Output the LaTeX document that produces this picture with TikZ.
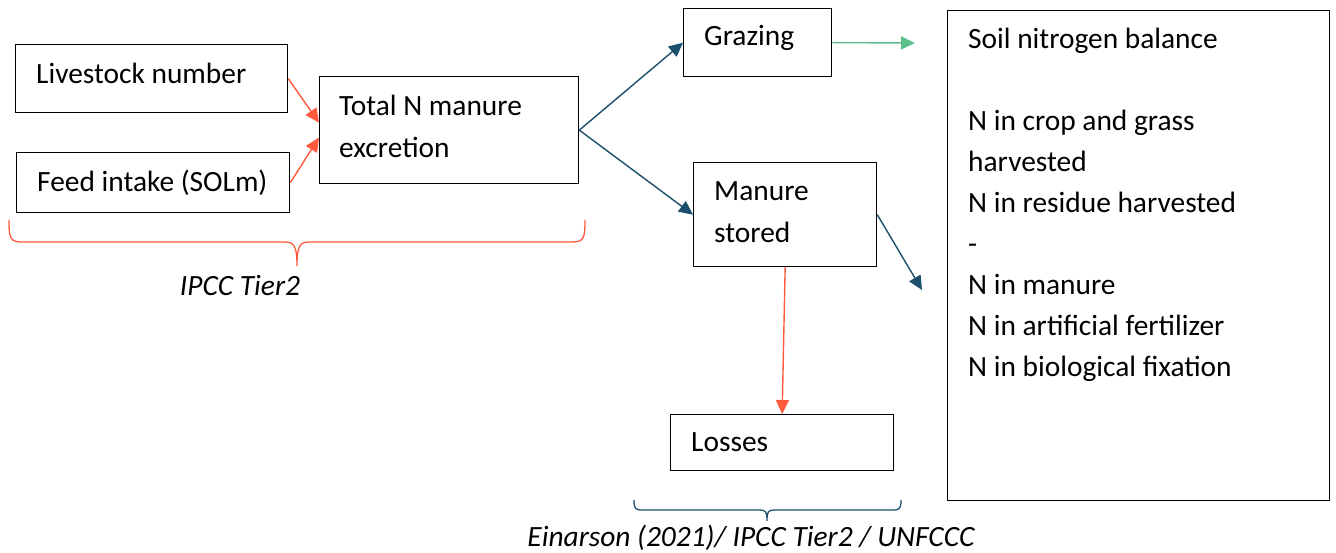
\documentclass[tikz,border=0pt]{standalone}
\usepackage{fontspec}
\setmainfont{Carlito}
\usetikzlibrary{arrows.meta,calc}
\definecolor{redc}{HTML}{FF5A3C}
\definecolor{bluec}{HTML}{1B4F6B}
\definecolor{greenc}{HTML}{5CBF8C}
\begin{document}
\begin{tikzpicture}[x=1pt,y=-1pt,
  box/.style={draw=black,line width=1.3pt,inner sep=0pt,anchor=north west},
  txt/.style={inner sep=0pt,anchor=base west,align=left,font=\fontsize{29.4}{42}\selectfont},
  lab/.style={inner sep=0pt,font=\fontsize{29.4}{35}\selectfont\itshape},
  arr/.style={line width=1.4pt,-{Triangle[length=14pt,width=13pt]}},
  brace/.style={line width=1.3pt}]
\useasboundingbox (0,0) rectangle (1336,553);
% boxes
\node[box,minimum width=272pt,minimum height=68pt] (liv) at (15,44) {};
\node[box,minimum width=273pt,minimum height=60pt] (feed) at (16,152) {};
\node[box,minimum width=259pt,minimum height=107pt] (tot) at (319,76) {};
\node[box,minimum width=148pt,minimum height=68pt] (graz) at (683,8) {};
\node[box,minimum width=183pt,minimum height=104pt] (stor) at (693,162) {};
\node[box,minimum width=223pt,minimum height=56pt] (loss) at (670,414) {};
\node[box,minimum width=382pt,minimum height=490pt] (soil) at (947,10) {};
% texts (base anchor = last line baseline)
\node[txt] (livt) at ($(liv.north west)+(21,40)$) {Livestock number};
\node[txt] (feedt) at ($(feed.north west)+(21,40)$) {Feed intake (SOLm)};
\node[txt] (tott) at ($(tot.north west)+(20,82)$) {Total N manure\\excretion};
\node[txt] (grazt) at ($(graz.north west)+(21,38)$) {Grazing};
\node[txt] (stort) at ($(stor.north west)+(21,81)$) {Manure\\stored};
\node[txt] (losst) at ($(loss.north west)+(21,37)$) {Losses};
\node[txt,font=\fontsize{29.4}{40.9}\selectfont] (soilt) at ($(soil.north west)+(21,366)$) {Soil nitrogen balance\\[0pt]\\N in crop and grass\\harvested\\N in residue harvested\\-\\N in manure\\N in artificial fertilizer\\N in biological fixation};
% connectors
\draw[arr,redc] (liv.east) -- ($(tot.west)+(0,-7.5)$);
\draw[arr,redc] (feed.east) -- ($(tot.west)+(0,7.5)$);
\draw[arr,bluec] (tot.east) -- (graz.west);
\draw[arr,bluec] (tot.east) -- (stor.west);
\coordinate (gend) at (915,43);
\draw[arr,greenc] (graz.east) -- (gend);
\coordinate (send) at (922,290);
\draw[arr,bluec] (stor.east) -- (send);
\draw[arr,redc] (stor.south) -- (loss.north);
% braces
\draw[brace,redc] (9,220) .. controls (9,238) and (10,242) .. (22,242) -- (285,242) .. controls (294,242) and (297,246) .. (297,266)
  .. controls (297,246) and (300,242) .. (309,242) -- (572,242) .. controls (584,242) and (585,238) .. (585,220);
\draw[brace,bluec] (634,500) .. controls (634,508) and (635,510) .. (642,510) -- (760,510) .. controls (766,510) and (767,512) .. (767,521)
  .. controls (767,512) and (768,510) .. (774,510) -- (893,510) .. controls (900,510) and (901,508) .. (901,500);
\node[lab] (ipcc) at (240,285) {IPCC Tier2};
\node[lab] (ein) at (751,538) {Einarson (2021)/ IPCC Tier2 / UNFCCC};
\end{tikzpicture}
\end{document}
